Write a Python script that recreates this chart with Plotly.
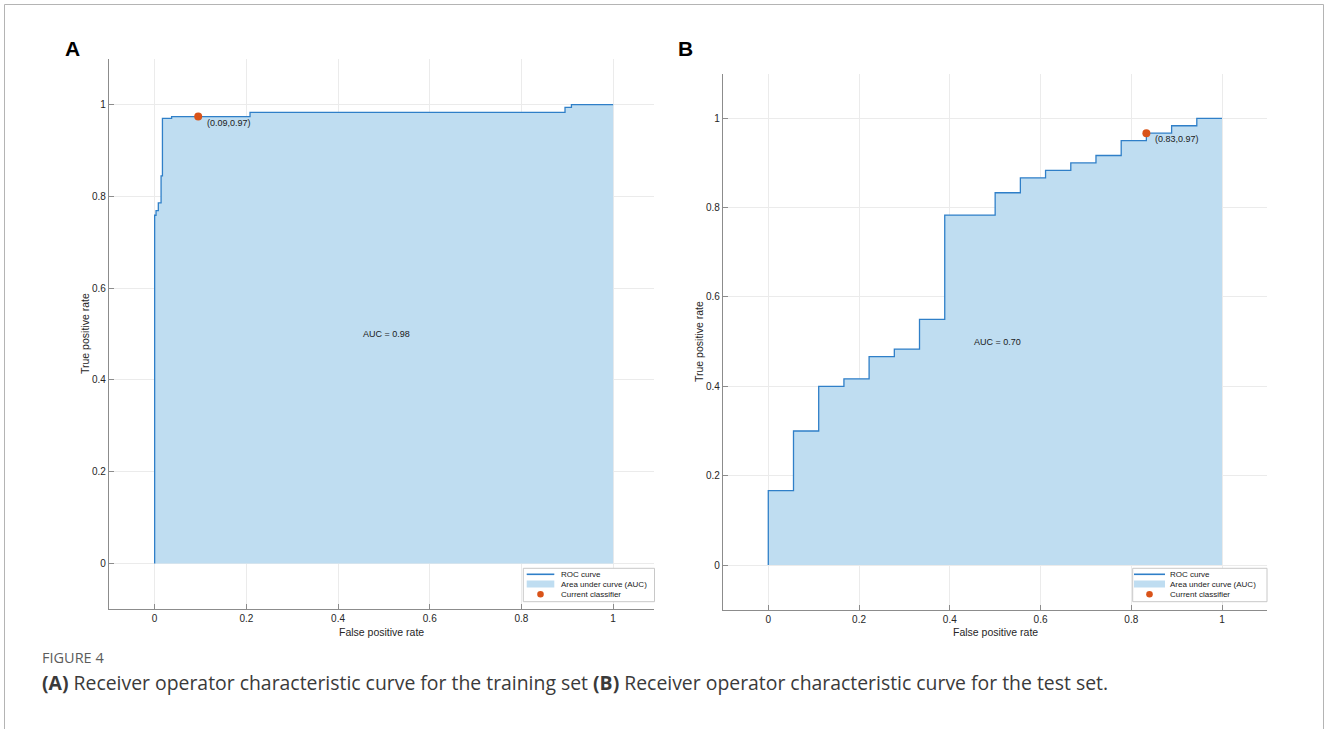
import plotly.graph_objects as go

W, H = 1328, 729

# ---------------- data ----------------
# Panel A: training set ROC (FPR, TPR)
fpr_train = [0.0, 0.0, 0.003, 0.008, 0.014, 0.017, 0.037, 0.208, 0.895, 0.909, 1.0]
tpr_train = [0.0, 0.759, 0.769, 0.786, 0.845, 0.970, 0.974, 0.983, 0.994, 1.0, 1.0]
auc_train_label = "AUC = 0.98"
point_train = (0.095, 0.974)
point_train_label = "(0.09,0.97)"

# Panel B: test set ROC (FPR, TPR)
fpr_test = [0.0, 0.0, 0.0556, 0.1111, 0.1667, 0.2222, 0.2778, 0.3333, 0.3889, 0.5,
            0.5556, 0.6111, 0.6667, 0.7222, 0.7778, 0.8333, 0.8889, 0.9444, 1.0]
tpr_test = [0.0, 0.1667, 0.3, 0.4, 0.4167, 0.4667, 0.4833, 0.55, 0.7833, 0.8333,
            0.8667, 0.8833, 0.9, 0.9167, 0.95, 0.9667, 0.9833, 1.0, 1.0]
auc_test_label = "AUC = 0.70"
point_test = (0.8333, 0.9667)
point_test_label = "(0.83,0.97)"

tick_vals = [0, 0.2, 0.4, 0.6, 0.8, 1]
tick_text = ["0", "0.2", "0.4", "0.6", "0.8", "1"]
legend_labels = ["ROC curve", "Area under curve (AUC)", "Current classifier"]
x_title = "False positive rate"
y_title = "True positive rate"
caption_head = "FIGURE 4"
caption_text = ("<b>(A)</b> Receiver operator characteristic curve for the training set "
                "<b>(B)</b> Receiver operator characteristic curve for the test set.")

# ---------------- style ----------------
LINE = "#2f7fc8"
FILL = "rgb(191,221,241)"
DOT = "#D95319"
FONT = "Liberation Sans"
AX = "#8c8c8c"
GRID = "#ebebeb"


def px(x):
    return x / W


def py(y):
    return 1 - y / H


fig = go.Figure()

panels = [
    (fpr_train, tpr_train, point_train, point_train_label, auc_train_label, "x", "y"),
    (fpr_test, tpr_test, point_test, point_test_label, auc_test_label, "x2", "y2"),
]

annotations = []
for fx, ty, pt, ptlab, auclab, xa, ya in panels:
    fig.add_trace(go.Scatter(x=fx, y=ty, mode="lines", line=dict(shape="hv", width=0),
                             fill="tozeroy", fillcolor=FILL, xaxis=xa, yaxis=ya,
                             showlegend=False, hoverinfo="skip"))
    fig.add_trace(go.Scatter(x=fx, y=ty, mode="lines", line=dict(shape="hv", width=1.3, color=LINE),
                             xaxis=xa, yaxis=ya, showlegend=False))
    fig.add_trace(go.Scatter(x=[pt[0]], y=[pt[1]], mode="markers",
                             marker=dict(size=8, color=DOT), xaxis=xa, yaxis=ya, showlegend=False))
    annotations.append(dict(x=pt[0], y=pt[1], xref=xa, yref=ya, text=ptlab, showarrow=False,
                            xanchor="left", yanchor="middle", xshift=7, yshift=-6,
                            font=dict(size=9, color="#1a1a1a", family=FONT)))
    annotations.append(dict(x=0.45, y=0.5, xref=xa, yref=ya, text=auclab, showarrow=False,
                            xanchor="left", yanchor="middle",
                            font=dict(size=9, color="#1a1a1a", family=FONT)))

axis_common = dict(showgrid=True, gridcolor=GRID, gridwidth=1, zeroline=False,
                   showline=True, linecolor=AX, linewidth=1, ticks="inside", ticklen=5,
                   tickcolor=AX, tickvals=tick_vals, ticktext=tick_text,
                   tickfont=dict(size=10, color="#262626", family=FONT))

fig.update_layout(
    width=W, height=H, margin=dict(l=0, r=0, t=0, b=0),
    paper_bgcolor="white", plot_bgcolor="white",
    font=dict(family=FONT),
    xaxis=dict(domain=[px(108.8), px(653.5)], range=[-0.1, 1.088], anchor="y", **axis_common),
    yaxis=dict(domain=[py(609.3), py(58.8)], range=[-0.1, 1.1], anchor="x", **axis_common),
    xaxis2=dict(domain=[px(722.9), px(1267.4)], range=[-0.1, 1.1], anchor="y2", **axis_common),
    yaxis2=dict(domain=[py(609.7), py(73.6)], range=[-0.1, 1.1], anchor="x2", **axis_common),
    showlegend=False,
)

shapes = []
# figure frame
shapes.append(dict(type="rect", xref="paper", yref="paper", x0=px(4.5), x1=px(1323.5),
                   y0=py(740), y1=py(4.5), line=dict(color="#b4b4b4", width=1),
                   fillcolor="rgba(0,0,0,0)", layer="above"))

# axis titles
for cx, cy, rot, t in [(381, 632, 0, x_title), (85, 334, -90, y_title),
                       (995, 632, 0, x_title), (699, 342, -90, y_title)]:
    annotations.append(dict(x=px(cx), y=py(cy), xref="paper", yref="paper", text=t,
                            showarrow=False, textangle=rot, xanchor="center", yanchor="middle",
                            font=dict(size=10.5, color="#262626", family=FONT)))

# panel letters
for cx, t in [(72.5, "A"), (685, "B")]:
    annotations.append(dict(x=px(cx), y=py(48), xref="paper", yref="paper", text="<b>%s</b>" % t,
                            showarrow=False, xanchor="center", yanchor="middle",
                            font=dict(size=21, color="black", family=FONT)))

# manual legends (box, line sample, patch, dot, labels)
for bx0, bx1, lx0, lx1, tx in [(523.3, 654.5, 526.7, 554.3, 559.3),
                               (1132.7, 1267.0, 1134.0, 1165.0, 1168.3)]:
    shapes.append(dict(type="rect", xref="paper", yref="paper", x0=px(bx0), x1=px(bx1),
                       y0=py(601.7), y1=py(568.3), line=dict(color="#c8c8c8", width=1),
                       fillcolor="white", layer="above"))
    shapes.append(dict(type="line", xref="paper", yref="paper", x0=px(lx0), x1=px(lx1),
                       y0=py(574.3), y1=py(574.3), line=dict(color=LINE, width=1.6), layer="above"))
    shapes.append(dict(type="rect", xref="paper", yref="paper", x0=px(lx0), x1=px(lx1),
                       y0=py(587.5), y1=py(580.5), line=dict(width=0),
                       fillcolor=FILL, layer="above"))
    cxd = (lx0 + lx1) / 2
    shapes.append(dict(type="circle", xref="paper", yref="paper", x0=px(cxd - 3.3), x1=px(cxd + 3.3),
                       y0=py(594.3 + 3.3), y1=py(594.3 - 3.3), line=dict(width=0),
                       fillcolor=DOT, layer="above"))
    for i, lab in enumerate(legend_labels):
        annotations.append(dict(x=px(tx), y=py(574.3 + 10 * i), xref="paper", yref="paper",
                                text=lab, showarrow=False, xanchor="left", yanchor="middle",
                                font=dict(size=8, color="#1a1a1a", family=FONT)))

# caption
annotations.append(dict(x=px(40), y=py(657), xref="paper", yref="paper", text=caption_head,
                        showarrow=False, xanchor="left", yanchor="middle",
                        font=dict(size=14.5, color="#5c5c5c", family="Open Sans")))
annotations.append(dict(x=px(40), y=py(682), xref="paper", yref="paper", text=caption_text,
                        showarrow=False, xanchor="left", yanchor="middle",
                        font=dict(size=19.4, color="#3a3a3a", family="Open Sans")))

fig.update_layout(shapes=shapes, annotations=annotations)
fig.write_html("out.html", config={"displayModeBar": False},
               post_script="document.body.style.margin='0';document.body.style.overflow='hidden';")
